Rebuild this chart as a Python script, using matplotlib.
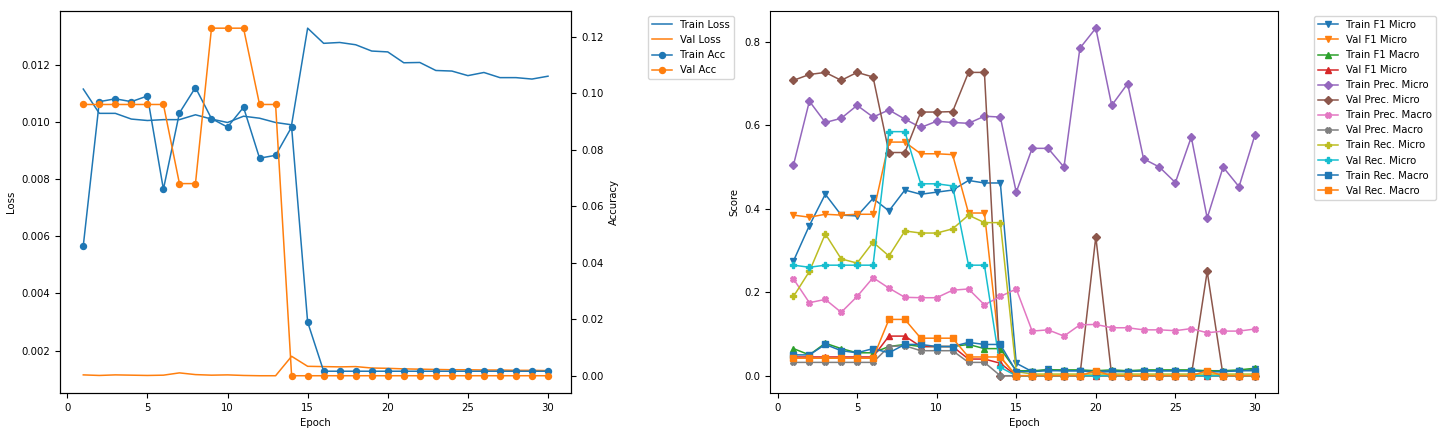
import numpy as np
import matplotlib
matplotlib.use("Agg")
import matplotlib.pyplot as plt

plt.rcParams["font.size"] = 7.3
plt.rcParams["lines.linewidth"] = 1.1
plt.rcParams["lines.markersize"] = 4.3

# ============================================================
# DANE
# ============================================================
epochs = list(range(1, 31))

train_loss = [0.01115, 0.0103, 0.0103, 0.0101, 0.01005, 0.01008, 0.01008, 0.01025, 0.0101, 0.00998,
              0.0102, 0.01013, 0.00998, 0.0099, 0.01328, 0.01275, 0.01278, 0.0127, 0.01248, 0.01245,
              0.01207, 0.01208, 0.0118, 0.01178, 0.01162, 0.01173, 0.01155, 0.01155, 0.0115, 0.0116]
val_loss = [0.00115, 0.00113, 0.00115, 0.00114, 0.00113, 0.00114, 0.00122, 0.00116, 0.00114, 0.00115,
            0.00113, 0.00112, 0.00112, 0.0018, 0.00145, 0.00144, 0.00143, 0.00144, 0.00139, 0.00138,
            0.00136, 0.00135, 0.00134, 0.00133, 0.00133, 0.00132, 0.00132, 0.00131, 0.00131, 0.0013]
train_acc = [0.046, 0.097, 0.098, 0.097, 0.099, 0.066, 0.093, 0.102, 0.091, 0.088,
             0.095, 0.077, 0.078, 0.088, 0.019] + [0.0016] * 15
val_acc = [0.096] * 6 + [0.068, 0.068, 0.123, 0.123, 0.123, 0.096, 0.096] + [0.0] * 17

train_f1_micro = [0.275, 0.36, 0.435, 0.385, 0.383, 0.425, 0.395, 0.445, 0.435, 0.44,
                  0.445, 0.468, 0.462, 0.462, 0.03, 0.01, 0.015, 0.012, 0.012, 0.008,
                  0.01, 0.01, 0.012, 0.012, 0.012, 0.012, 0.01, 0.01, 0.012, 0.015]
val_f1_micro = [0.385, 0.38, 0.387, 0.385, 0.387, 0.387, 0.56, 0.56, 0.532, 0.532,
                0.53, 0.39, 0.39, 0.045] + [0.0] * 16
train_f1_macro = [0.065, 0.05, 0.078, 0.065, 0.055, 0.055, 0.07, 0.075, 0.07, 0.07,
                  0.07, 0.075, 0.065, 0.065, 0.012, 0.012, 0.014, 0.014, 0.014, 0.012,
                  0.014, 0.012, 0.014, 0.014, 0.014, 0.014, 0.012, 0.012, 0.014, 0.018]
val_f1_micro2 = [0.045] * 6 + [0.095, 0.095, 0.07, 0.07, 0.07, 0.04, 0.04, 0.03] + [0.0] * 16
train_prec_micro = [0.505, 0.658, 0.607, 0.617, 0.648, 0.62, 0.637, 0.615, 0.595, 0.61,
                    0.607, 0.605, 0.622, 0.62, 0.44, 0.545, 0.545, 0.5, 0.785, 0.833,
                    0.648, 0.70, 0.52, 0.5, 0.463, 0.572, 0.378, 0.5, 0.453, 0.577]
val_prec_micro = [0.708, 0.722, 0.727, 0.708, 0.727, 0.716, 0.535, 0.535, 0.632, 0.632,
                  0.633, 0.727, 0.727, 0.0, 0.0, 0.0, 0.0, 0.0, 0.0, 0.333,
                  0.0, 0.0, 0.0, 0.0, 0.0, 0.0, 0.25, 0.0, 0.0, 0.0]
train_prec_macro = [0.232, 0.175, 0.183, 0.152, 0.19, 0.235, 0.21, 0.188, 0.187, 0.187,
                    0.205, 0.208, 0.17, 0.19, 0.208, 0.107, 0.11, 0.095, 0.122, 0.123,
                    0.115, 0.115, 0.11, 0.11, 0.108, 0.113, 0.103, 0.107, 0.107, 0.112]
val_prec_macro = [0.032] * 6 + [0.07, 0.072, 0.06, 0.06, 0.06, 0.032, 0.032] + [0.0] * 17
train_rec_micro = [0.19, 0.25, 0.34, 0.28, 0.27, 0.32, 0.287, 0.347, 0.342, 0.342,
                   0.352, 0.385, 0.367, 0.367, 0.01] + [0.004] * 15
val_rec_micro = [0.265, 0.26, 0.265, 0.265, 0.265, 0.265, 0.585, 0.585, 0.46, 0.46,
                 0.455, 0.265, 0.265, 0.02] + [0.0] * 16
train_rec_macro = [0.05, 0.05, 0.075, 0.06, 0.055, 0.065, 0.055, 0.075, 0.075, 0.07,
                   0.07, 0.08, 0.075, 0.075, 0.01, 0.01, 0.012, 0.012, 0.012, 0.01,
                   0.012, 0.01, 0.012, 0.012, 0.012, 0.012, 0.01, 0.01, 0.012, 0.012]
val_rec_macro = [0.042] * 6 + [0.135, 0.135, 0.09, 0.09, 0.09, 0.045, 0.045, 0.045,
                               0, 0, 0, 0, 0, 0.012, 0, 0, 0, 0, 0, 0, 0.012, 0, 0, 0]

score_series = [
    ("Train F1 Micro", train_f1_micro, "v"),
    ("Val F1 Micro", val_f1_micro, "v"),
    ("Train F1 Macro", train_f1_macro, "^"),
    ("Val F1 Micro", val_f1_micro2, "^"),
    ("Train Prec. Micro", train_prec_micro, "D"),
    ("Val Prec. Micro", val_prec_micro, "D"),
    ("Train Prec. Macro", train_prec_macro, "X"),
    ("Val Prec. Macro", val_prec_macro, "X"),
    ("Train Rec. Micro", train_rec_micro, "P"),
    ("Val Rec. Micro", val_rec_micro, "P"),
    ("Train Rec. Macro", train_rec_macro, "s"),
    ("Val Rec. Macro", val_rec_macro, "s"),
]

# ============================================================
# WYKRESY
# ============================================================
fig = plt.figure(figsize=(14.4, 4.32), dpi=100)
ax1 = fig.add_axes([0.0417, 0.09, 0.355, 0.885])
ax2 = ax1.twinx()

ax1.plot(epochs, train_loss, color="C0", label="Train Loss")
ax1.plot(epochs, val_loss, color="C1", label="Val Loss")
ax2.plot(epochs, train_acc, color="C0", marker="o", label="Train Acc")
ax2.plot(epochs, val_acc, color="C1", marker="o", label="Val Acc")
ax1.set_xlabel("Epoch")
ax1.set_ylabel("Loss")
ax2.set_ylabel("Accuracy")
h1, l1 = ax1.get_legend_handles_labels()
h2, l2 = ax2.get_legend_handles_labels()
ax1.legend(h1 + h2, l1 + l2, loc="upper left", bbox_to_anchor=(1.14, 1.0))

ax3 = fig.add_axes([0.535, 0.09, 0.3525, 0.885])
for label, vals, mk in score_series:
    ax3.plot(epochs, vals, marker=mk, label=label)
ax3.set_xlabel("Epoch")
ax3.set_ylabel("Score")
ax3.legend(loc="upper left", bbox_to_anchor=(1.06, 1.0))

plt.savefig("out.png")
plt.close()
